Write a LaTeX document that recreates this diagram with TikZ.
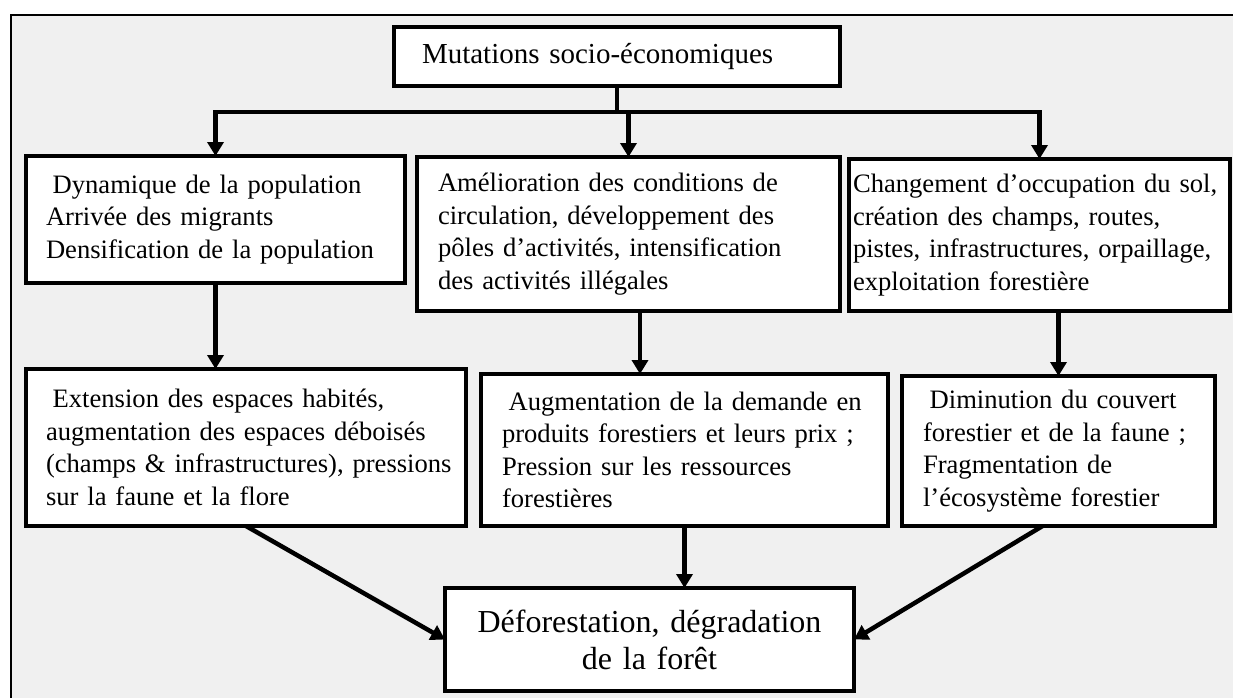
\documentclass[tikz,border=0pt]{standalone}
\usepackage{fontspec}
\setmainfont{Liberation Serif}
\usetikzlibrary{arrows.meta}
\definecolor{framegray}{HTML}{F0F0F0}
\tikzset{
  box/.style={draw, line width=4.5pt, fill=white, align=left, inner ysep=0pt,
    outer sep=0pt, anchor=north west, font=\fontsize{26.6}{32.5}\selectfont},
  arr/.style={line width=4.5pt, -{Triangle[width=16pt,length=14pt]}},
  plain/.style={line width=4.5pt}
}
\begin{document}
\begin{tikzpicture}[x=1pt,y=-1pt]
\useasboundingbox (0,0) rectangle (1233,697);
\draw[line width=2pt, fill=framegray] (11,15) rectangle (1260,720);

\node[box, font=\fontsize{29}{34}\selectfont, text width=390pt, inner xsep=28pt, minimum height=59pt] (top) at (394,27) {Mutations socio-économiques};

\node[box, text width=339pt, inner xsep=20pt, minimum height=127pt] (b1) at (26,156)
  {\hspace*{0.25em}Dynamique de la population\\Arrivée des migrants\\\mbox{Densification de la population}};
\node[box, text width=381pt, inner xsep=21pt, minimum height=154pt] (b2) at (417,157)
  {Amélioration des conditions de\\circulation, développement des\\\mbox{pôles d’activités, intensification}\\des activités illégales};
\node[box, text width=373pt, inner xsep=4pt, minimum height=152pt] (b3) at (849,159)
  {Changement d’occupation du sol,\\création des champs, routes,\\\mbox{pistes, infrastructures, orpaillage,}\\exploitation forestière};

\node[box, text width=400pt, inner xsep=20pt, minimum height=157pt] (b4) at (26,369)
  {\hspace*{0.25em}Extension des espaces habités,\\\mbox{augmentation des espaces déboisés}\\\mbox{(champs \& infrastructures), pressions}\\sur la faune et la flore};
\node[box, text width=365pt, inner xsep=21pt, minimum height=152pt] (b5) at (481,374)
  {\mbox{\hspace*{0.25em}Augmentation de la demande en}\\\mbox{produits forestiers et leurs prix ;}\\Pression sur les ressources\\forestières};
\node[box, text width=271pt, inner xsep=21pt, minimum height=150pt] (b6) at (902,376)
  {\hspace*{0.25em}Diminution du couvert\\\mbox{forestier et de la faune ;}\\Fragmentation de\\\mbox{l’écosystème forestier}};

\node[box, align=center, font=\fontsize{32}{37}\selectfont, text width=389pt, inner xsep=10pt, minimum height=103pt] (bot) at (445,588)
  {Déforestation, dégradation\\de la forêt};

% top distribution
\coordinate (bus) at (617,112);
\draw[plain] (top.south) -- (bus);
\draw[arr] (bus) -| (b1.north);
\draw[arr] (bus) -| (b3.north);
\draw[arr] (b2.north |- bus) -- (b2.north);

% row 1 -> row 2
\draw[arr] (b1.south) -- (b1.south |- b4.north);
\coordinate (c25) at ([xshift=11.5pt]b2.south);
\draw[arr] (c25) -- (c25 |- b5.north);
\draw[arr] (b6.north |- b3.south) -- (b6.north);

% row 2 -> bottom
\draw[arr] (b4.south) -- (bot.west);
\draw[arr] (b5.south) -- (b5.south |- bot.north);
\coordinate (c6) at ([xshift=-16pt]b6.south);
\draw[arr] (c6) -- (bot.east);
\end{tikzpicture}
\end{document}
